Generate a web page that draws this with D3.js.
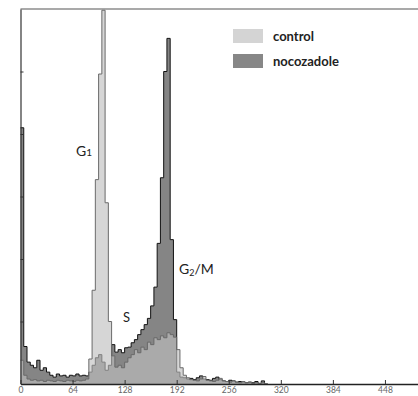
<!DOCTYPE html>
<html>
<head>
<meta charset="utf-8">
<script src="https://cdn.jsdelivr.net/npm/d3@7"></script>
<style>
  body { margin: 0; background: #fff; }
  svg { display: block; }
</style>
</head>
<body>
<script>
// histogram bins, 4 channels each, starting at channel 0
let binWidth = 4;
let control = [38, 14, 8, 6, 7, 5, 6, 4, 6, 5, 4, 6, 5, 4, 6, 5, 4, 6, 5, 6,
  8, 40, 150, 327, 496, 598, 290, 100, 45, 27, 30, 26, 35, 42, 47, 55, 50, 59, 55, 67,
  63, 74, 71, 77, 74, 82, 79, 75, 55, 26, 14, 10, 7, 6, 5, 8, 12, 6, 5, 4,
  6, 9, 5, 4, 3, 5, 3, 2, 4, 2, 3, 1, 2, 1, 2, 0];
let nocozadole = [410, 60, 35, 30, 26, 38, 22, 26, 19, 14, 11, 16, 13, 14, 11, 14, 13, 16, 13, 14,
  13, 19, 30, 42, 47, 35, 22, 30, 63, 51, 55, 50, 58, 59, 66, 71, 79, 87, 95, 105,
  125, 155, 225, 330, 500, 553, 231, 103, 19, 11, 10, 8, 9, 7, 10, 13, 8, 7, 6, 9,
  11, 7, 5, 4, 6, 5, 3, 4, 3, 2, 3, 2, 4, 1, 5, 0];
let xTicks = [0, 64, 128, 192, 256, 320, 384, 448];
let yTicks = [100, 200, 300, 400, 500];
let legendLabels = ['control', 'nocozadole'];

let width = 418;
let height = 396;

let svg = d3.select('body').append('svg')
  .attr('width', width)
  .attr('height', height);

let x = d3.scaleLinear().domain([0, 512]).range([20.5, 437]);
let y = d3.scaleLinear().domain([0, 600]).range([384, 9]);

let toPoints = function(vals) {
  let pts = vals.map((v, i) => ({ ch: i * binWidth, v: v }));
  pts.push({ ch: vals.length * binWidth, v: 0 });
  return pts;
};

let area = d3.area()
  .curve(d3.curveStepAfter)
  .x(d => x(d.ch))
  .y0(y(0))
  .y1(d => y(d.v));
let line = d3.line()
  .curve(d3.curveStepAfter)
  .x(d => x(d.ch))
  .y(d => y(d.v));

// top frame
svg.append('line')
  .attr('x1', x(0)).attr('x2', x(512))
  .attr('y1', y(600)).attr('y2', y(600))
  .attr('stroke', '#555').attr('stroke-width', 1.2);

let plotG = svg.append('g');

plotG.append('path')
  .datum(toPoints(nocozadole))
  .attr('d', area)
  .attr('fill', '#858585');
plotG.append('path')
  .datum(toPoints(nocozadole))
  .attr('d', line)
  .attr('fill', 'none')
  .attr('stroke', '#111')
  .attr('stroke-width', 1);

plotG.append('path')
  .datum(toPoints(control))
  .attr('d', area)
  .attr('fill', '#bfbfbf')
  .attr('fill-opacity', 0.64);
plotG.append('path')
  .datum(toPoints(control))
  .attr('d', line)
  .attr('fill', 'none')
  .attr('stroke', '#6a6a6a')
  .attr('stroke-width', 1);

// axes
let xAxis = d3.axisBottom(x)
  .tickValues(xTicks)
  .tickSizeInner(-4)
  .tickSizeOuter(0)
  .tickPadding(3);
let yAxis = d3.axisLeft(y)
  .tickValues(yTicks)
  .tickSizeInner(-3)
  .tickSizeOuter(0)
  .tickFormat('');

let xAxisG = svg.append('g')
  .attr('transform', 'translate(0,' + y(0) + ')')
  .call(xAxis);
xAxisG.select('.domain').attr('stroke', '#222').attr('stroke-width', 1.5);
xAxisG.selectAll('.tick line').attr('stroke', '#333');
xAxisG.selectAll('.tick text')
  .attr('fill', '#666')
  .style('font-family', 'Lato, sans-serif')
  .style('font-size', '8.5px');

let yAxisG = svg.append('g')
  .attr('transform', 'translate(' + x(0) + ',0)')
  .call(yAxis);
yAxisG.select('.domain').attr('stroke', '#333').attr('stroke-width', 1.2);
yAxisG.selectAll('.tick line').attr('stroke', '#333');

// legend
let legendColors = ['#d4d4d4', '#878787'];
let legendG = svg.append('g');
legendLabels.forEach((lbl, i) => {
  legendG.append('rect')
    .attr('x', 233).attr('y', 29 + i * 25)
    .attr('width', 30).attr('height', 14)
    .attr('fill', legendColors[i]);
  legendG.append('text')
    .attr('x', 273).attr('y', 41 + i * 25)
    .attr('fill', '#222')
    .style('font-family', 'Lato, sans-serif')
    .style('font-weight', 'bold')
    .style('font-size', '13px')
    .text(lbl);
});

// phase labels
let labelFont = 'Lato, sans-serif';
let g1 = svg.append('text')
  .attr('x', 76).attr('y', 156)
  .attr('fill', '#222')
  .style('font-family', labelFont)
  .style('font-size', '14px');
g1.append('tspan').text('G');
g1.append('tspan').attr('font-size', '10px').text('1');

svg.append('text')
  .attr('x', 123).attr('y', 322)
  .attr('fill', '#222')
  .style('font-family', labelFont)
  .style('font-size', '13px')
  .text('S');

let g2 = svg.append('text')
  .attr('x', 179).attr('y', 274)
  .attr('fill', '#222')
  .style('font-family', labelFont)
  .style('font-size', '14px');
g2.append('tspan').text('G');
g2.append('tspan').attr('font-size', '9px').attr('dy', 2).text('2');
g2.append('tspan').attr('dy', -2).text('/M');
</script>
</body>
</html>
